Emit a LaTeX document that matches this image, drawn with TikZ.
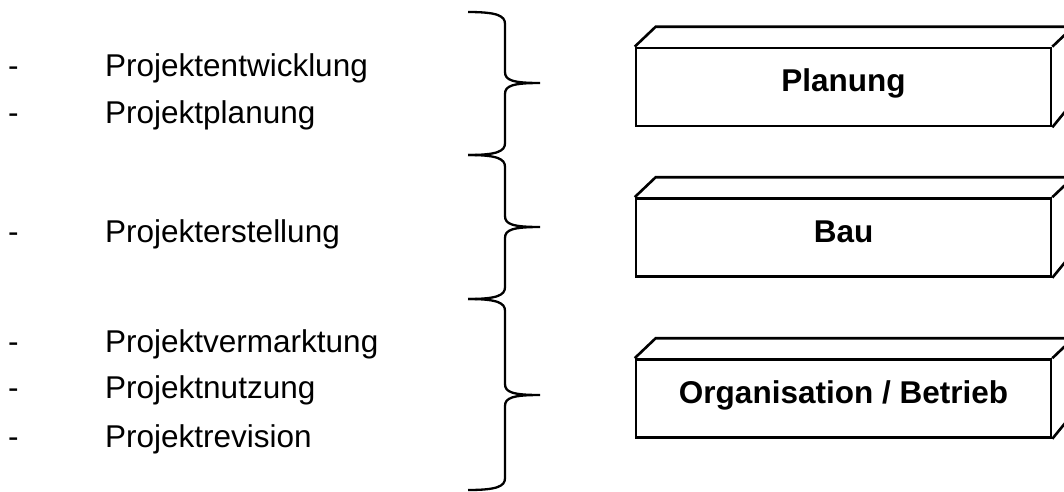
\documentclass[tikz,border=0pt]{standalone}
\usepackage{fontspec}
\setmainfont{Liberation Sans}
\begin{document}
\begin{tikzpicture}[x=1pt,y=-1pt,
  item/.style={anchor=base west,inner sep=0pt,font=\fontsize{31.5}{36}\selectfont},
  box/.style={draw,line width=2.6pt,minimum width=415pt,minimum height=78pt,inner sep=0pt,
    text height=22.5pt,text depth=13.5pt,font=\fontsize{31.5}{36}\selectfont\bfseries},
  side/.style={line width=2.6pt,line join=miter},
  brace/.style={line width=2.3pt,line cap=butt}]
\useasboundingbox (0,0) rectangle (1064,491);
\clip (0,0) rectangle (1064,491);

% left list
\foreach \n/\y/\t in {a/76/Projektentwicklung,b/123/Projektplanung,c/242/Projekterstellung,d/352/Projektvermarktung,e/398.5/Projektnutzung,f/447/Projektrevision}{
  \node[item] (d\n) at (8,\y) {-};
  \node[item] (t\n) at (105,\y) {\t};
}

% braces
\newcommand\mybrace[4]{%
  \coordinate (#4top) at (468,#1);
  \coordinate (#4tip) at (540,#2);
  \coordinate (#4bot) at (468,#3);
  \draw[brace] (#4top) .. controls (498,#1) and (505,#1+4) .. (505,#1+12)
    -- (505,#2-11) .. controls (505,#2-3) and (512,#2) .. (#4tip)
    .. controls (512,#2) and (505,#2+3) .. (505,#2+11)
    -- (505,#3-12) .. controls (505,#3-4) and (498,#3) .. (#4bot);
}
\mybrace{12}{83}{155}{b1}
\mybrace{155}{227}{299}{b2}
\mybrace{299}{395}{490}{b3}

% 3D boxes
\newcommand\threedbox[3]{%
  \node[box] (#1) at (843.5,#2) {#3};
  \draw[side] (#1.north west) -- ++(21,-20) -- ++(415,0) -- ++(0,78) -- (#1.south east);
  \draw[side] (#1.north east) -- ++(21,-20);
}
\threedbox{p}{87}{Planung}
\threedbox{q}{237.5}{Bau}
\threedbox{r}{398.5}{Organisation / Betrieb}
\end{tikzpicture}
\end{document}
